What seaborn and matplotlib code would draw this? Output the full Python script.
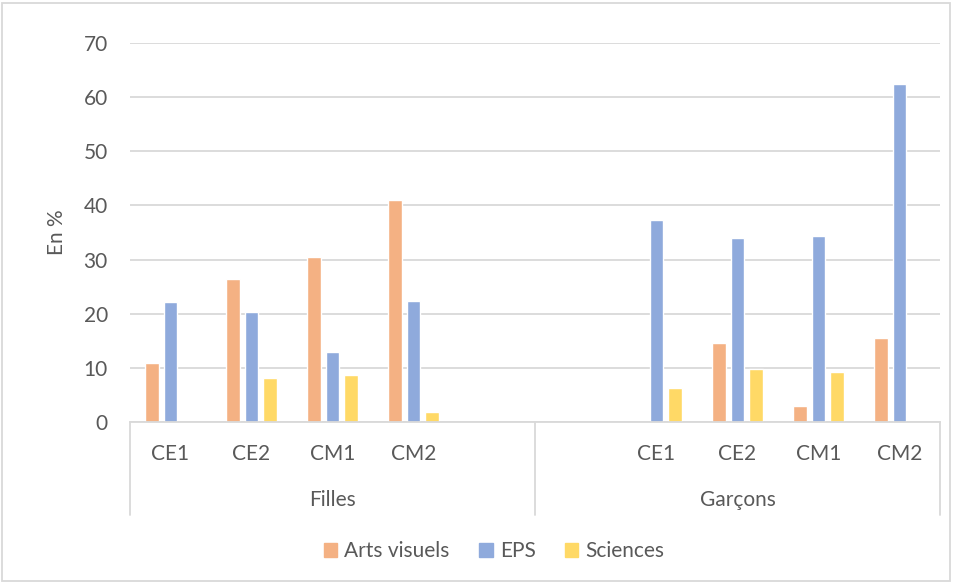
import pandas as pd
import matplotlib.pyplot as plt
import matplotlib.patches as mpatches
import seaborn as sns

# Values (in %)
niveaux = ['CE1', 'CE2', 'CM1', 'CM2']
groupes = ['Filles', 'Garçons']
matieres = ['Arts visuels', 'EPS', 'Sciences']
couleurs = ['#F4B183', '#8FAADC', '#FFD966']

filles_arts = [10.9, 26.4, 30.5, 41.0]
filles_eps = [22.2, 20.3, 13.0, 22.3]
filles_sciences = [0.0, 8.1, 8.7, 1.9]

garcons_arts = [0.0, 14.5, 2.9, 15.5]
garcons_eps = [37.4, 34.0, 34.3, 62.4]
garcons_sciences = [6.2, 9.7, 9.3, 0.0]

# Category slots: Filles has an empty slot at the end, Garçons at the start
slots = ([f'Filles {n}' for n in niveaux] + ['Filles _', 'Garçons _']
         + [f'Garçons {n}' for n in niveaux])
slot_labels = niveaux + ['', ''] + niveaux

rows = []
for g, series in zip(groupes, [(filles_arts, filles_eps, filles_sciences),
                               (garcons_arts, garcons_eps, garcons_sciences)]):
    for m, vals in zip(matieres, series):
        for n, v in zip(niveaux, vals):
            rows.append({'slot': f'{g} {n}', 'matiere': m, 'valeur': v})
df = pd.DataFrame(rows)

sns.set_style('white')
plt.rcParams['font.family'] = ['Lato', 'DejaVu Sans']
txt = '#595959'
grid = '#D9D9D9'
fs = 15

fig = plt.figure(figsize=(9.54, 5.82), dpi=100)
ax = fig.add_axes([130 / 954, 1 - 422 / 582, 810 / 954, 379 / 582])

sns.barplot(data=df, x='slot', y='valeur', hue='matiere', order=slots,
            hue_order=matieres, palette=couleurs, width=0.68, gap=0.25,
            saturation=1, ax=ax, legend=False)

ax.set_xlim(-0.5, len(slots) - 0.5)
ax.set_ylim(0, 70)
ax.set_yticks(range(0, 71, 10))
ax.yaxis.grid(True, color=grid, linewidth=1.3)
ax.set_axisbelow(True)
for s in ['top', 'right', 'left']:
    ax.spines[s].set_visible(False)
ax.spines['bottom'].set_color(grid)
ax.spines['bottom'].set_linewidth(1.3)
ax.tick_params(axis='y', length=0, pad=16, labelsize=fs, labelcolor=txt)
ax.tick_params(axis='x', length=0, pad=16, labelsize=fs, labelcolor=txt)
ax.set_xticks(range(len(slots)))
ax.set_xticklabels(slot_labels)
ax.set_xlabel('')
ax.set_ylabel('En %', fontsize=fs, color=txt, labelpad=12)

# second level of the category axis
trans = ax.get_xaxis_transform()
low = -(515 - 422) / 379
for x in [-0.5, 4.5, 9.5]:
    ax.plot([x, x], [0, low], transform=trans, color=grid, lw=1.3, clip_on=False)
for i, g in enumerate(groupes):
    ax.text(2 + 5 * i, -(500 - 422) / 379, g, transform=trans, ha='center',
            va='center', fontsize=fs, color=txt)

handles = [mpatches.Patch(color=c, label=m) for m, c in zip(matieres, couleurs)]
leg = fig.legend(handles=handles, loc='center', bbox_to_anchor=(0.518, 1 - 551 / 582),
                 ncol=3, frameon=False, fontsize=fs, handlelength=0.65,
                 handleheight=0.65, handletextpad=0.35, columnspacing=1.4)
for t in leg.get_texts():
    t.set_color(txt)

fig.patches.append(mpatches.Rectangle((2 / 954, 1 / 582), 948 / 954, 578 / 582,
                                      transform=fig.transFigure, fill=False,
                                      edgecolor=grid, lw=1.3))

fig.savefig('out.png', dpi=100)
